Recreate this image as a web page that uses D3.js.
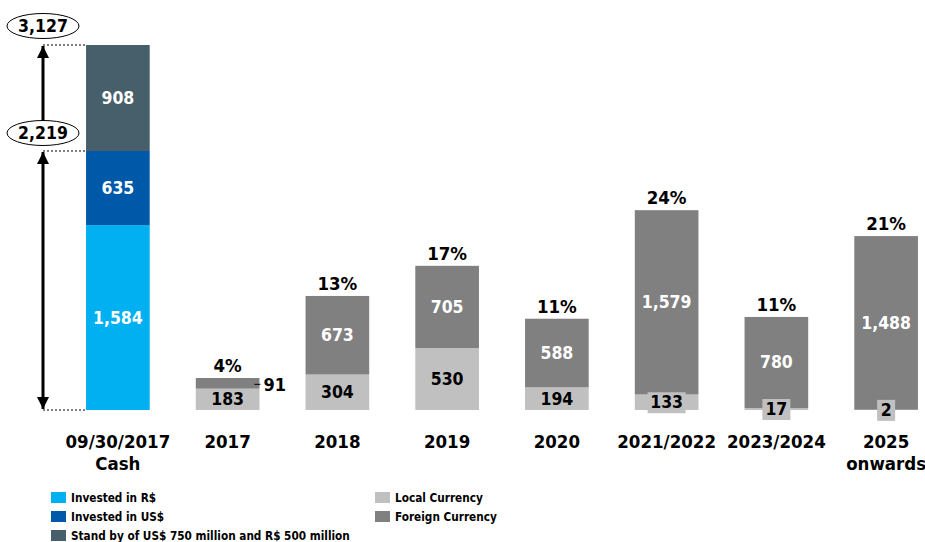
<!DOCTYPE html>
<html>
<head>
<meta charset="utf-8">
<script src="https://cdn.jsdelivr.net/npm/d3@7"></script>
<style>
  body { margin: 0; background: #fff; }
  text { font-family: "DejaVu Sans Condensed", "DejaVu Sans", sans-serif; font-weight: bold; }
</style>
</head>
<body>
<svg id="canvas" width="925" height="542"></svg>
<script>
// categories
let categories = ['09/30/2017|Cash', '2017', '2018', '2019', '2020', '2021/2022', '2023/2024', '2025|onwards']

// cash position (first column)
let cashLabels = ['Invested in R$', 'Invested in US$', 'Stand by of US$ 750 million and R$ 500 million']
let cashValues = [1584, 635, 908]
let cashColors = ['#00b0f0', '#0058a8', '#475f6b']

// debt amortization
let debtYears = ['2017', '2018', '2019', '2020', '2021/2022', '2023/2024', '2025|onwards']
let localCurrency = [183, 304, 530, 194, 133, 17, 2]
let foreignCurrency = [91, 673, 705, 588, 1579, 780, 1488]
let percentLabels = ['4%', '13%', '17%', '11%', '24%', '11%', '21%']
let debtLabels = ['Local Currency', 'Foreign Currency']
let debtColors = ['#c0c0c0', '#808080']

let canvas = d3.select('#canvas')

let x = d3.scaleBand()
    .domain(categories)
    .range([63, 941])
    .paddingInner(0.42)
    .paddingOuter(0.21)

let y = d3.scaleLinear()
    .domain([0, d3.sum(cashValues)])
    .range([410, 45])

let fmt = d3.format(',')

// defs for arrows
let defs = canvas.append('defs')
defs.append('marker')
    .attr('id', 'arrow')
    .attr('viewBox', '0 0 10 10')
    .attr('refX', 10).attr('refY', 5)
    .attr('markerWidth', 4).attr('markerHeight', 4)
    .attr('orient', 'auto-start-reverse')
    .append('path')
    .attr('d', 'M0,0 L10,5 L0,10 z')
    .attr('fill', '#000')

// ---- cash bar
let cashX = x(categories[0])
let stacked = []
let acc = 0
cashValues.forEach((v, i) => {
    stacked.push({ v: v, y0: acc, y1: acc + v, color: cashColors[i] })
    acc += v
})

canvas.selectAll('rect.cash')
    .data(stacked)
    .enter()
    .append('rect')
    .attr('class', 'cash')
    .attr('x', cashX)
    .attr('width', x.bandwidth())
    .attr('y', (d) => y(d.y1))
    .attr('height', (d) => y(d.y0) - y(d.y1))
    .attr('fill', (d) => d.color)

canvas.selectAll('text.cash')
    .data(stacked)
    .enter()
    .append('text')
    .attr('class', 'cash')
    .attr('x', cashX + x.bandwidth() / 2)
    .attr('y', (d) => (y(d.y0) + y(d.y1)) / 2 + 6)
    .attr('text-anchor', 'middle')
    .attr('font-size', 17.5)
    .attr('fill', '#fff')
    .text((d) => fmt(d.v))

// dotted guides and arrows
let arrowX = 43
let total = d3.sum(cashValues)
let invested = cashValues[0] + cashValues[1]
;[0, invested, total].forEach((v) => {
    canvas.append('line')
        .attr('x1', arrowX).attr('x2', cashX)
        .attr('y1', y(v)).attr('y2', y(v))
        .attr('stroke', '#000')
        .attr('stroke-width', 1)
        .attr('stroke-dasharray', '2,2')
})

// lower double arrow (invested total)
canvas.append('line')
    .attr('x1', arrowX).attr('x2', arrowX)
    .attr('y1', y(0) - 1).attr('y2', y(invested) + 1)
    .attr('stroke', '#000').attr('stroke-width', 3)
    .attr('marker-start', 'url(#arrow)')
    .attr('marker-end', 'url(#arrow)')

// upper arrow (from 2,219 label up to total)
canvas.append('line')
    .attr('x1', arrowX).attr('x2', arrowX)
    .attr('y1', 121).attr('y2', y(total) + 1)
    .attr('stroke', '#000').attr('stroke-width', 3)
    .attr('marker-end', 'url(#arrow)')

let bubbles = [{ v: total, cy: 26 }, { v: invested, cy: 133 }]
bubbles.forEach((b) => {
    canvas.append('ellipse')
        .attr('cx', arrowX).attr('cy', b.cy)
        .attr('rx', 36).attr('ry', 12.5)
        .attr('fill', '#fff')
        .attr('stroke', '#000').attr('stroke-width', 1)
    canvas.append('text')
        .attr('x', arrowX).attr('y', b.cy + 6)
        .attr('text-anchor', 'middle')
        .attr('font-size', 17.5)
        .attr('fill', '#000')
        .text(fmt(b.v))
})

// ---- debt bars
let debt = debtYears.map((c, i) => {
    return { cat: c, local: localCurrency[i], foreign: foreignCurrency[i], pct: percentLabels[i] }
})

let groups = canvas.selectAll('g.debt')
    .data(debt)
    .enter()
    .append('g')
    .attr('class', 'debt')

groups.append('rect')
    .attr('x', (d) => x(d.cat))
    .attr('width', x.bandwidth())
    .attr('y', (d) => y(d.local))
    .attr('height', (d) => y(0) - y(d.local))
    .attr('fill', debtColors[0])

groups.append('rect')
    .attr('x', (d) => x(d.cat))
    .attr('width', x.bandwidth())
    .attr('y', (d) => y(d.local + d.foreign))
    .attr('height', (d) => y(d.local) - y(d.local + d.foreign))
    .attr('fill', debtColors[1])

// percent labels
groups.append('text')
    .attr('x', (d) => x(d.cat) + x.bandwidth() / 2)
    .attr('y', (d) => y(d.local + d.foreign) - 6)
    .attr('text-anchor', 'middle')
    .attr('font-size', 18.5)
    .attr('fill', '#000')
    .text((d) => d.pct)

// local currency labels (small ones get a grey box)
groups.each(function (d) {
    let g = d3.select(this)
    let cx = x(d.cat) + x.bandwidth() / 2
    let cy = (y(0) + y(d.local)) / 2
    let label = fmt(d.local)
    if (y(0) - y(d.local) < 20) {
        let w = label.length * 10 + 8
        g.append('rect')
            .attr('x', cx - w / 2).attr('y', cy - 10)
            .attr('width', w).attr('height', 21)
            .attr('fill', debtColors[0])
    }
    g.append('text')
        .attr('x', cx).attr('y', cy + 6)
        .attr('text-anchor', 'middle')
        .attr('font-size', 17.5)
        .attr('fill', '#000')
        .text(label)

    // foreign currency labels
    let fy = (y(d.local) + y(d.local + d.foreign)) / 2
    if (y(d.local) - y(d.local + d.foreign) < 20) {
        let right = x(d.cat) + x.bandwidth()
        g.append('line')
            .attr('x1', right - 5).attr('x2', right + 1)
            .attr('y1', fy + 1).attr('y2', fy + 1)
            .attr('stroke', '#000').attr('stroke-width', 1)
        g.append('text')
            .attr('x', right + 4).attr('y', fy + 8)
            .attr('font-size', 18)
            .attr('fill', '#000')
            .text(fmt(d.foreign))
    } else {
        g.append('text')
            .attr('x', cx).attr('y', fy + 6)
            .attr('text-anchor', 'middle')
            .attr('font-size', 17.5)
            .attr('fill', '#fff')
            .text(fmt(d.foreign))
    }
})

// category labels
canvas.selectAll('text.cat')
    .data(categories)
    .enter()
    .append('text')
    .attr('class', 'cat')
    .attr('x', (d) => x(d) + x.bandwidth() / 2)
    .attr('y', 448)
    .attr('text-anchor', 'middle')
    .attr('font-size', 18.5)
    .attr('fill', '#000')
    .each(function (d) {
        let t = d3.select(this)
        d.split('|').forEach((line, i) => {
            t.append('tspan')
                .attr('x', x(d) + x.bandwidth() / 2)
                .attr('dy', i === 0 ? 0 : 22)
                .text(line)
        })
    })

// legend
let legendItems = cashLabels.map((l, i) => ({ label: l, color: cashColors[i], col: 0, row: i }))
    .concat(debtLabels.map((l, i) => ({ label: l, color: debtColors[i], col: 1, row: i })))

let legend = canvas.selectAll('g.legend')
    .data(legendItems)
    .enter()
    .append('g')
    .attr('class', 'legend')
    .attr('transform', (d) => 'translate(' + (d.col === 0 ? 51 : 375) + ',' + (492 + d.row * 19) + ')')

legend.append('rect')
    .attr('width', 15).attr('height', 11)
    .attr('fill', (d) => d.color)

legend.append('text')
    .attr('x', 20).attr('y', 10)
    .attr('font-size', 11.7)
    .attr('fill', '#000')
    .text((d) => d.label)
</script>
</body>
</html>
